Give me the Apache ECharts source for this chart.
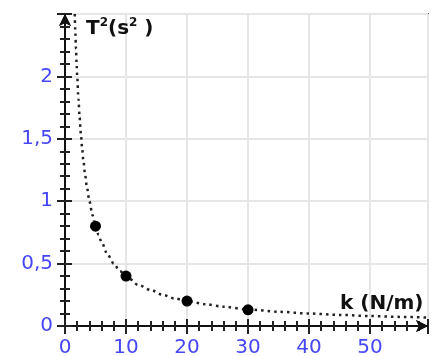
<!DOCTYPE html>
<html>
<head>
<meta charset="utf-8">
<script src="https://cdn.jsdelivr.net/npm/echarts@6/dist/echarts.min.js"></script>
<style>html,body{margin:0;padding:0;background:#fff;}#c{width:438px;height:356px;}</style>
</head>
<body>
<div id="c"></div>
<script>
// measured points (k in N/m, T^2 in s^2)
const pointK = [5, 10, 20, 30];
const pointT2 = [0.8, 0.4, 0.2, 0.13];
// dotted fit curve
const curveK = [1.6, 1.7, 1.8, 1.9, 2, 2.2, 2.4, 2.6, 2.8, 3, 3.3, 3.6, 4, 4.5, 5, 5.5, 6, 7, 8, 9, 10, 12, 14, 16, 18, 20, 23, 26, 30, 35, 40, 45, 50, 55, 59.5];
const curveT2 = [2.5, 2.35, 2.22, 2.1, 2.0, 1.82, 1.67, 1.54, 1.43, 1.33, 1.21, 1.11, 1.0, 0.89, 0.8, 0.73, 0.67, 0.57, 0.5, 0.44, 0.4, 0.33, 0.29, 0.25, 0.22, 0.2, 0.174, 0.154, 0.133, 0.114, 0.1, 0.089, 0.08, 0.073, 0.067];
const xTicks = [0, 10, 20, 30, 40, 50];
const yTicks = [0, 0.5, 1, 1.5, 2];

const labelColor = '#4646f5';
const font = 'DejaVu Sans';
const chart = echarts.init(document.getElementById('c'));

function axisPair(isX) {
  const base = {
    type: 'value',
    min: 0,
    max: isX ? 59.5 : 2.5,
    interval: isX ? 10 : 0.5,
    axisLine: { show: true, lineStyle: { color: '#111', width: 2 }, symbol: ['none', 'arrow'], symbolSize: [9, 12] },
    minorTick: { show: true, splitNumber: 5, length: 5, lineStyle: { color: '#222', width: 2 } },
    minorSplitLine: { show: false }
  };
  const a = Object.assign({}, base, {
    position: isX ? 'bottom' : 'left',
    axisTick: { show: true, inside: false, length: 8, lineStyle: { color: '#222', width: 2 } },
    axisLabel: {
      show: true,
      color: labelColor,
      fontFamily: font,
      fontSize: 20,
      margin: 12,
      showMaxLabel: false,
      formatter: function (v) {
        const list = isX ? xTicks : yTicks;
        return list.indexOf(v) >= 0 ? String(v).replace('.', ',') : '';
      }
    },
    splitLine: { show: true, lineStyle: { color: '#e6e6e6', width: 2 } }
  });
  const b = Object.assign({}, base, {
    position: isX ? 'bottom' : 'left',
    axisTick: { show: true, inside: true, length: 7, lineStyle: { color: '#222', width: 2 } },
    axisLabel: { show: false },
    splitLine: { show: false }
  });
  b.minorTick = Object.assign({}, base.minorTick);
  return [a, b];
}

const option = {
  animation: false,
  backgroundColor: '#fff',
  grid: { left: 65, right: 10, top: 14, bottom: 30, outerBoundsMode: 'none', containLabel: false, show: true, borderColor: '#555', borderWidth: 2, backgroundColor: 'transparent' },
  xAxis: axisPair(true),
  yAxis: axisPair(false),
  title: [
    {
      left: 81, top: 12,
      text: '{a|T}{s|2}{a|(s}{s|2}{a| )}',
      textStyle: {
        rich: {
          a: { fontFamily: font, fontWeight: 'bold', fontSize: 20, color: '#111', lineHeight: 24 },
          s: { fontFamily: font, fontWeight: 'bold', fontSize: 12, color: '#111', verticalAlign: 'top', lineHeight: 24 }
        }
      }
    },
    {
      left: 335, top: 289,
      text: 'k (N/m)',
      textStyle: { fontFamily: font, fontWeight: 'bold', fontSize: 20, color: '#111' }
    }
  ],
  series: [
    {
      type: 'line',
      data: curveK.map((k, i) => [k, curveT2[i]]),
      showSymbol: false,
      smooth: 0.3,
      smoothMonotone: 'x',
      lineStyle: { color: '#222', width: 2.5, type: [2.5, 4] },
      z: 3
    },
    {
      type: 'scatter',
      data: pointK.map((k, i) => [k, pointT2[i]]),
      symbol: 'circle',
      symbolSize: 11,
      itemStyle: { color: '#000', opacity: 1 },
      z: 4
    }
  ]
};
chart.setOption(option);
</script>
</body>
</html>
